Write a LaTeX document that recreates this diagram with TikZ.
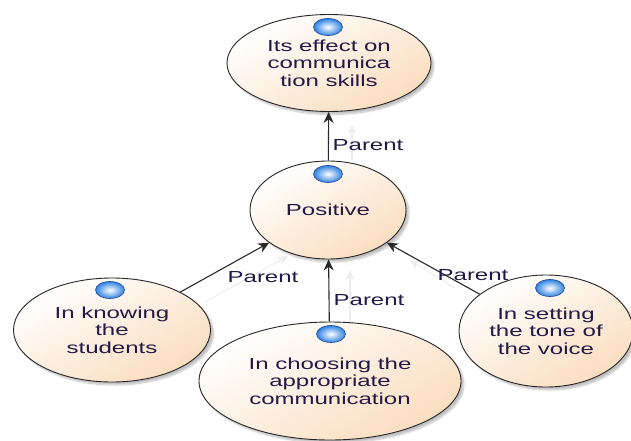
\documentclass[tikz,border=0pt]{standalone}
\usepackage{fontspec}
\newfontfamily\labfont[FakeStretch=1.5]{Liberation Sans}
\usetikzlibrary{shapes.geometric,arrows.meta,shadows.blur}
\definecolor{peach}{RGB}{250,221,190}
\definecolor{txtc}{RGB}{35,25,70}
\definecolor{linec}{RGB}{40,40,40}
\definecolor{ballc}{RGB}{45,130,225}
\definecolor{balledge}{RGB}{30,70,150}
\pgfdeclarelayer{background}
\pgfsetlayers{background,main}
\begin{document}
\begin{tikzpicture}[x=1pt,y=-1pt,
  bubble/.style={ellipse, draw=black!85, line width=0.9pt, inner sep=0pt,
    top color=white, bottom color=peach, shading angle=30,
    blur shadow={shadow xshift=3pt, shadow yshift=-3pt, shadow blur steps=6, shadow opacity=25},
    font=\labfont\fontsize{16}{17.5}\selectfont, text=txtc, align=center},
  ballnode/.style={ellipse, draw=balledge, line width=0.6pt, inner sep=0pt,
    minimum width=29pt, minimum height=17pt, inner color=white, outer color=ballc},
  lbl/.style={font=\labfont\fontsize{16}{17.5}\selectfont, text=txtc, inner sep=0pt},
  conn/.style={draw=linec, line width=1.1pt, -{Stealth[length=11pt,width=10pt]}},
  ghost/.style={draw=black!7, line width=1.1pt, -{Stealth[length=10pt,width=9pt]}}
]
\useasboundingbox (0,0) rectangle (631,441);

% ellipses
\node[bubble, minimum width=204pt, minimum height=97pt] (top) at (329,63) {Its effect on\\communica\\tion skills};
\node[bubble, minimum width=156pt, minimum height=98pt] (pos) at (328,210) {Positive};
\node[bubble, minimum width=197pt, minimum height=104pt] (left) at (112,330) {In knowing\\the\\students};
\node[bubble, minimum width=262pt, minimum height=118pt] (mid) at (330,381) {In choosing the\\appropriate\\communication};
\node[bubble, minimum width=174pt, minimum height=112pt] (right) at (546,331) {In setting\\the tone of\\the voice};

% balls
\node[ballnode] (b1) at (328,27) {};
\node[ballnode] (b2) at (328,174) {};
\node[ballnode] (b3) at (110,290) {};
\node[ballnode] (b4) at (331,334) {};
\node[ballnode] (b5) at (550,288) {};

% connectors
\draw[conn] (pos) -- (top);
\draw[conn] (left) -- (pos);
\draw[conn] (mid) -- (pos);
\draw[conn] (right) -- (pos);

% ghost (faint shadow) arrows
\coordinate (g1a) at (352,160); \coordinate (g1b) at (352,124);
\coordinate (g2a) at (205,302); \coordinate (g2b) at (288,256);
\coordinate (g3a) at (350,322); \coordinate (g3b) at (350,270);
\coordinate (g4a) at (455,288); \coordinate (g4b) at (410,260);
\begin{pgfonlayer}{background}
\draw[ghost] (g1a) -- (g1b);
\draw[ghost] (g2a) -- (g2b);
\draw[ghost] (g3a) -- (g3b);
\draw[ghost] (g4a) -- (g4b);
\end{pgfonlayer}

% labels
\node[lbl] (l1) at (368,145) {Parent};
\node[lbl] (l2) at (263,277) {Parent};
\node[lbl] (l3) at (369,300) {Parent};
\node[lbl] (l4) at (473,275) {Parent};
\end{tikzpicture}
\end{document}
